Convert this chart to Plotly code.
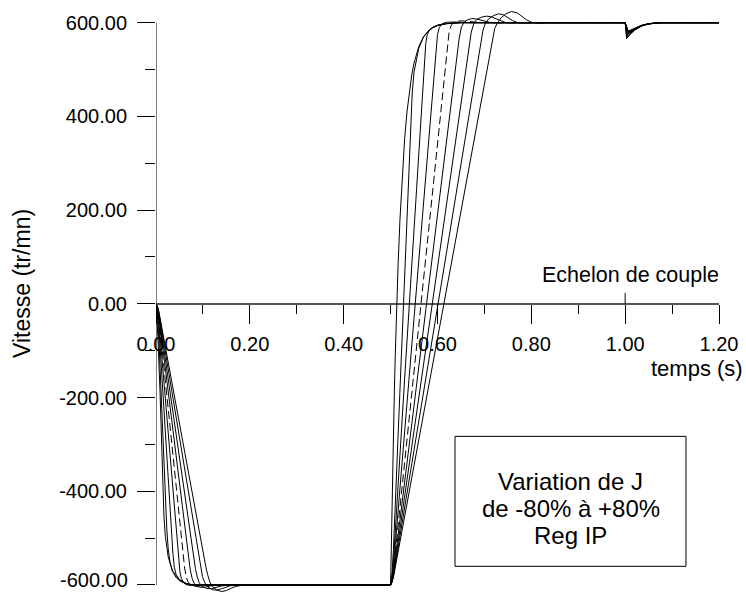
import plotly.graph_objects as go

# ---- data: speed responses (t in s, speed in tr/mn) for J variations -80%..+80% ----
J_LABELS = ["-80%", "-60%", "-40%", "-20%", "0%", "+20%", "+40%", "+60%", "+80%"]

T_M80 = [0, 0.002, 0.004, 0.0085, 0.0115, 0.0142, 0.017, 0.02, 0.026, 0.035, 0.05, 0.065, 0.08,
         0.5, 0.502, 0.504, 0.506, 0.508, 0.51, 0.513, 0.516, 0.52, 0.525, 0.53, 0.535, 0.54, 0.545, 0.55,
         0.56, 0.57, 0.58, 0.59, 0.6, 0.62, 0.65,
         1.0, 1.003, 1.008, 1.02, 1.035, 1.05, 1.065, 1.08, 1.2]
V_M80 = [0, -30, -70, -185, -300, -390, -455, -497, -540, -570, -589, -597, -600,
         -600, -480, -372, -275, -188, -109, -5, 83, 181, 278, 353, 410, 454, 488, 514,
         549, 570, 582, 589.5, 594, 598, 600,
         600, 566, 572, 584, 593, 597.5, 599.5, 600, 600]

T_M60 = [0, 0.003, 0.006, 0.01, 0.015, 0.02, 0.023, 0.026, 0.03, 0.035, 0.042, 0.05, 0.065, 0.08,
         0.5, 0.503, 0.506, 0.52, 0.535, 0.542, 0.546, 0.55, 0.555, 0.56, 0.57, 0.58, 0.59, 0.6, 0.62, 0.65,
         1.0, 1.0035, 1.0085, 1.02, 1.035, 1.05, 1.065, 1.08, 1.2]
V_M60 = [0, -25, -73, -171, -294, -416, -480, -523, -552, -570, -583, -591, -598, -600,
         -600, -575.5, -526.5, -183.5, 184, 355.5, 448, 495, 524, 545, 569, 581.5, 589, 594, 598, 600,
         600, 569, 575, 584.5, 593, 597.5, 599.5, 600, 600]

T_M40 = [0, 0.003, 0.006, 0.015, 0.025, 0.032, 0.036, 0.039, 0.043, 0.05, 0.065, 0.08,
         0.5, 0.503, 0.506, 0.53, 0.56, 0.565, 0.569, 0.572, 0.575, 0.578, 0.583, 0.59, 0.6, 0.62, 0.65,
         1.0, 1.004, 1.009, 1.02, 1.035, 1.05, 1.065, 1.08, 1.2]
V_M40 = [0, -16, -49, -196, -359, -474, -532, -562, -578, -589, -597, -600,
         -600, -583.7, -551, -159, 331, 412.6, 478, 523, 556, 574, 585, 590.5, 595, 598.5, 600,
         600, 572, 577.5, 585, 593, 597.5, 599.5, 600, 600]

T_M20 = [0, 0.003, 0.006, 0.02, 0.035, 0.042, 0.045, 0.048, 0.051, 0.054, 0.058, 0.064, 0.072, 0.085, 0.1,
         0.5, 0.503, 0.506, 0.53, 0.56, 0.585, 0.59, 0.594, 0.597, 0.6, 0.604, 0.61, 0.62, 0.635, 0.655, 0.68,
         1.0, 1.0045, 1.0095, 1.02, 1.035, 1.05, 1.065, 1.08, 1.2]
V_M20 = [0, -12, -37, -208, -392, -478, -515, -548, -572, -586, -594, -599, -601, -600.5, -600,
         -600, -587.75, -563.25, -269.25, 98.25, 404.5, 465.75, 514.75, 550, 575, 590, 598, 601, 601.5, 600.5, 600,
         600, 574, 579, 585.5, 593.2, 597.5, 599.5, 600, 600]

T_0 = [0, 0.003, 0.006, 0.02, 0.04, 0.05, 0.055, 0.058, 0.061, 0.065, 0.069, 0.075, 0.084, 0.095, 0.11, 0.125,
       0.5, 0.503, 0.506, 0.55, 0.6, 0.612, 0.617, 0.621, 0.625, 0.63, 0.637, 0.647, 0.657, 0.667, 0.68, 0.695, 0.71, 0.73,
       1.0, 1.005, 1.01, 1.02, 1.035, 1.05, 1.065, 1.08, 1.2]
V_0 = [0, -10, -29, -167, -363, -461, -510, -539, -564, -585, -595, -601, -603, -602, -600.5, -600,
       -600, -590.2, -570.6, -139.4, 350.6, 468, 517, 556, 583, 596, 601.5, 604, 604.2, 603, 601, 600, 599.8, 600,
       600, 576, 580.5, 586, 593.5, 597.5, 599.5, 600, 600]

T_P20 = [0, 0.003, 0.006, 0.02, 0.04, 0.06, 0.066, 0.07, 0.073, 0.077, 0.081, 0.087, 0.096, 0.106, 0.116, 0.13, 0.145,
         0.5, 0.503, 0.506, 0.55, 0.6, 0.635, 0.641, 0.646, 0.651, 0.657, 0.663, 0.673, 0.683, 0.693, 0.703, 0.713, 0.73, 0.75,
         1.0, 1.0055, 1.0105, 1.02, 1.035, 1.05, 1.065, 1.08, 1.2]
V_P20 = [0, -8, -25, -139, -302, -466, -515, -547, -568, -586, -596, -603, -605, -604.5, -602, -600.5, -600,
         -600, -591.8, -575.5, -216.2, 192.2, 478, 527, 565, 591, 601, 605.5, 609, 608, 605, 602, 600.2, 599.5, 600,
         600, 578, 582, 586.5, 593.8, 597.6, 599.5, 600, 600]

T_P40 = [0, 0.003, 0.006, 0.02, 0.04, 0.06, 0.075, 0.08, 0.084, 0.088, 0.092, 0.098, 0.108, 0.118, 0.128, 0.14, 0.155,
         0.5, 0.503, 0.506, 0.55, 0.6, 0.65, 0.662, 0.667, 0.672, 0.678, 0.684, 0.694, 0.705, 0.715, 0.725, 0.735, 0.745, 0.76, 0.78,
         1.0, 1.006, 1.011, 1.02, 1.035, 1.05, 1.065, 1.08, 1.2]
V_P40 = [0, -7, -21, -119, -259, -399, -504, -539, -565, -583, -595, -603, -607.5, -608, -605, -602, -600,
         -600, -593, -579, -271, 79, 429, 513, 548, 580, 600, 607, 612, 614, 612.5, 608, 603.5, 600.5, 599.2, 600,
         600, 579.5, 583, 587, 594, 597.7, 599.5, 600, 600]

T_P60 = [0, 0.003, 0.006, 0.02, 0.04, 0.06, 0.08, 0.09, 0.095, 0.099, 0.104, 0.11, 0.12, 0.13, 0.14, 0.15, 0.16, 0.18,
         0.5, 0.503, 0.506, 0.55, 0.6, 0.65, 0.685, 0.691, 0.697, 0.7025, 0.709, 0.719, 0.73, 0.74, 0.75, 0.76, 0.77, 0.785, 0.805,
         1.0, 1.0065, 1.0115, 1.02, 1.035, 1.05, 1.065, 1.08, 1.2]
V_P60 = [0, -6, -18, -104, -227, -349, -472, -533, -564, -582, -595, -604, -610, -611, -608, -604, -601, -600,
         -600, -593.9, -581.6, -312.1, -5.9, 300.4, 514.8, 551.6, 584, 600, 608, 615, 619, 617, 611, 604.5, 600.5, 599, 600,
         600, 581, 584, 587.5, 594.2, 597.8, 599.6, 600, 600]

T_P80 = [0, 0.003, 0.006, 0.02, 0.04, 0.06, 0.08, 0.1, 0.106, 0.11, 0.115, 0.12, 0.13, 0.14, 0.15, 0.16, 0.17, 0.185, 0.2,
         0.5, 0.503, 0.506, 0.55, 0.6, 0.65, 0.7, 0.71, 0.715, 0.722, 0.728, 0.735, 0.746, 0.758, 0.77, 0.78, 0.79, 0.8, 0.815, 0.835,
         1.0, 1.007, 1.012, 1.02, 1.035, 1.05, 1.065, 1.08, 1.2]
V_P80 = [0, -5, -16, -93, -201, -310, -419, -528, -560, -578, -594, -603, -611, -614, -612, -607, -603, -600.5, -600,
         -600, -594.6, -583.7, -344, -72, 200.3, 472.5, 527, 554, 588, 600, 610, 619, 624, 621, 614, 606, 601, 599, 600,
         600, 582, 585, 588, 594.5, 598, 599.6, 600, 600]

SERIES = [(T_M80, V_M80), (T_M60, V_M60), (T_M40, V_M40), (T_M20, V_M20), (T_0, V_0),
          (T_P20, V_P20), (T_P40, V_P40), (T_P60, V_P60), (T_P80, V_P80)]

X_TICKS = [0.0, 0.2, 0.4, 0.6, 0.8, 1.0, 1.2]
X_TICK_TEXT = ["0.00", "0.20", "0.40", "0.60", "0.80", "1.00", "1.20"]
Y_TICKS = [-600, -400, -200, 0, 200, 400, 600]
Y_TICK_TEXT = ["-600.00", "-400.00", "-200.00", "0.00", "200.00", "400.00", "600.00"]
BOX_LINES = ["Variation de J", "de -80% à +80%", "Reg IP"]

FONT = "Liberation Sans, Arial, Helvetica, sans-serif"

fig = go.Figure()
for lab, (t, v) in zip(J_LABELS, SERIES):
    fig.add_trace(go.Scatter(
        x=t, y=v, mode="lines", name="J " + lab,
        line=dict(color="black", width=1, dash="8px,4px" if lab == "0%" else "solid"),
        hoverinfo="skip"))

Y0, Y1 = -615, 625
H_PLOT = 581.0
W_PLOT = 563.0

# the lowest y label sits at the page's bottom edge: draw it as an annotation kept inside
y_text_axis = [("" if v == -600 else s) for v, s in zip(Y_TICKS, Y_TICK_TEXT)]

fig.update_layout(
    width=746, height=592,
    margin=dict(l=156, r=27, t=11, b=0, pad=0, autoexpand=False),
    paper_bgcolor="white", plot_bgcolor="white",
    showlegend=False,
    font=dict(family=FONT, size=20, color="black"),
    xaxis=dict(
        range=[0, 1.2], anchor="free", position=(0 - Y0) / (Y1 - Y0), automargin=False,
        showline=True, linecolor="#555555", linewidth=1.5,
        ticks="outside", ticklen=19, tickwidth=1, tickcolor="black",
        tickvals=X_TICKS, ticktext=X_TICK_TEXT,
        minor=dict(dtick=0.1, tick0=0, ticklen=9, ticks="outside", tickcolor="black", tickwidth=1),
        showgrid=False, zeroline=False, ticklabelstandoff=3, ticklabeloverflow="allow",
        tickfont=dict(size=20), layer="below traces"),
    yaxis=dict(
        range=[Y0, Y1], showline=False, automargin=False,
        ticks="outside", ticklen=18, tickwidth=1, tickcolor="black",
        tickvals=Y_TICKS, ticktext=y_text_axis,
        minor=dict(dtick=100, tick0=0, ticklen=10, ticks="outside", tickcolor="black", tickwidth=1),
        showgrid=False, zeroline=False, ticklabelstandoff=6, ticklabeloverflow="allow",
        tickfont=dict(size=20)),
)

# y axis line between -600 and 600, torque-step marker, legend box
fig.add_shape(type="line", xref="x", yref="y", x0=0, x1=0, y0=-600, y1=600,
              line=dict(color="black", width=1))
fig.add_shape(type="line", xref="x", yref="y", x0=1.0, x1=1.0, y0=0, y1=23.5,
              line=dict(color="black", width=1))
fig.add_shape(type="rect", xref="x", yref="y", x0=0.6373, x1=1.1296, y0=-560.2, y1=-282.8,
              line=dict(color="black", width=1), fillcolor="white", layer="above")

fig.add_annotation(x=(128.5 - 156) / W_PLOT, y=0, xref="paper", yref="paper",
                   text=Y_TICK_TEXT[0], showarrow=False, xanchor="right", yanchor="bottom",
                   font=dict(size=20), borderpad=0)
fig.add_annotation(x=1.0124, y=60.8, xref="x", yref="y", text="Echelon de couple",
                   showarrow=False, xanchor="center", yanchor="middle", font=dict(size=21.5))
fig.add_annotation(x=(745 - 156) / W_PLOT, y=(592 - 368) / H_PLOT, xref="paper", yref="paper",
                   text="temps (s)", showarrow=False, xanchor="right", yanchor="middle",
                   font=dict(size=22))
for txt, yy in zip(BOX_LINES, [-378.4, -436.0, -493.5]):
    fig.add_annotation(x=0.8845, y=yy, xref="x", yref="y", text=txt,
                       showarrow=False, xanchor="center", yanchor="middle", font=dict(size=24))
fig.add_annotation(x=(22 - 156) / W_PLOT, y=(592 - 284) / H_PLOT, xref="paper", yref="paper",
                   text="Vitesse (tr/mn)", textangle=-90, showarrow=False,
                   xanchor="center", yanchor="middle", font=dict(size=23))

fig.write_html("out.html")
